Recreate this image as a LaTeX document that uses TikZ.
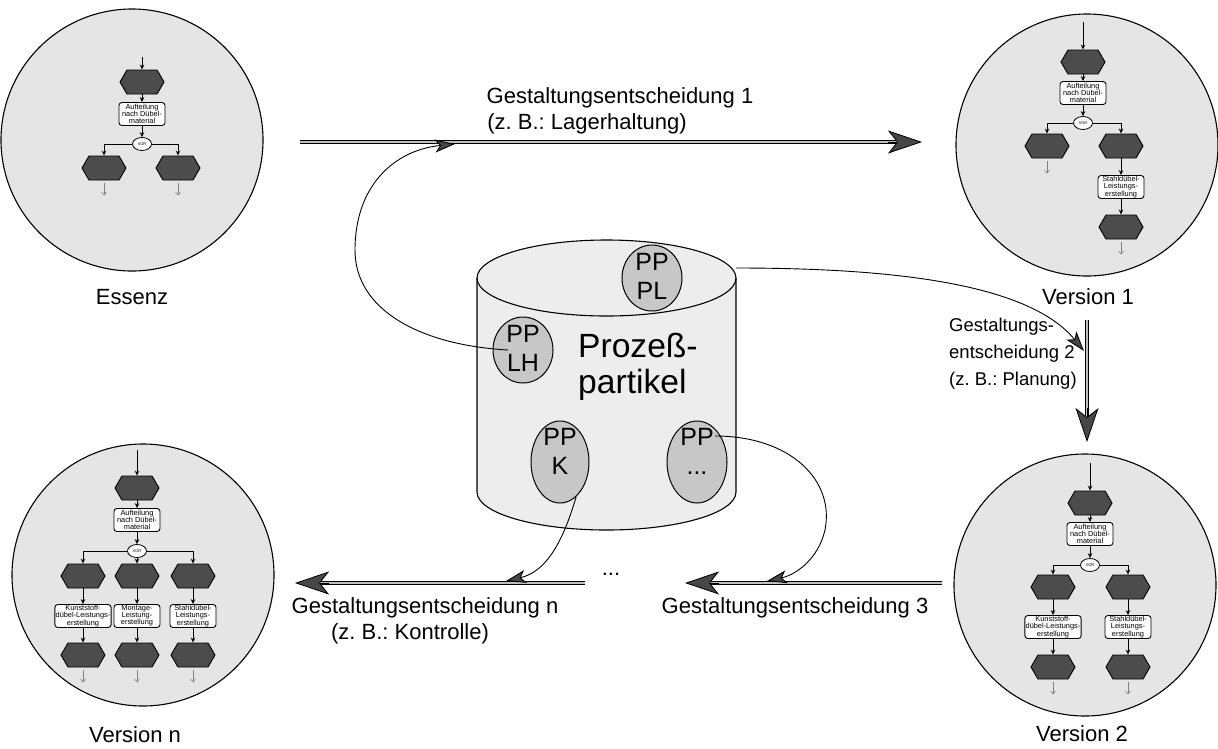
\documentclass[tikz,border=0pt]{standalone}
\usepackage{fontspec}
\setmainfont{Liberation Sans}
\usetikzlibrary{shapes.geometric,shapes.symbols,arrows.meta,calc}
\frenchspacing

\definecolor{stipple}{gray}{0.90}
\definecolor{cylfill}{gray}{0.93}
\definecolor{ppgray}{gray}{0.78}
\definecolor{evtgray}{gray}{0.30}
\definecolor{headgray}{gray}{0.28}
\definecolor{shaftgray}{gray}{0.75}

\tikzset{
  stage/.style={circle, draw, line width=1.1pt, fill=stipple, minimum size=262pt, inner sep=0pt},
  evt/.style={signal, signal to=west and east, signal pointer angle=120, draw, line width=0.9pt,
    fill=evtgray, minimum width=44pt, minimum height=24pt, inner sep=0pt},
  fn/.style={rounded corners=3pt, draw, line width=0.9pt, fill=white, minimum width=46pt,
    minimum height=23pt, inner sep=0.8pt, align=center, font=\fontsize{7.4}{7.2}\selectfont},
  xorc/.style={ellipse, draw, line width=0.8pt, fill=white, minimum width=19pt,
    minimum height=13pt, inner sep=0pt, font=\fontsize{4}{4}\selectfont},
  flow/.style={line width=0.9pt, -{Stealth[length=5pt,width=4.5pt]}},
  dangle/.style={gray, line width=0.6pt, -{Straight Barb[length=3pt,width=5pt]}},
  lbl/.style={font=\fontsize{22}{26}\selectfont, inner sep=0pt},
  pp/.style={ellipse, draw, line width=1pt, fill=ppgray, inner sep=0pt},
  pptext/.style={align=center, inner sep=0pt, font=\fontsize{25}{29}\selectfont},
  shaft/.style={double=shaftgray, double distance=2.6pt, line width=0.9pt},
  bighead/.style={line width=0.8pt, -{Stealth[length=34pt,width=23pt,inset=9pt,fill=headgray]}},
  link/.style={line width=0.9pt, -{Stealth[length=20pt,width=13pt,inset=5pt,fill=headgray]}},
}

\begin{document}
\begin{tikzpicture}[x=1pt,y=1pt]
\useasboundingbox (0,0) rectangle (1218,-748);

% ---------------- stage circles ----------------
\node[stage] (cE)  at (132,-140) {};
\node[stage] (cV1) at (1087,-145) {};
\node[stage] (cV2) at (1085,-585) {};
\node[stage] (cVn) at (143,-575) {};

\node[lbl] (tE)  at (132,-297) {Essenz};
\node[lbl] (tV1) at (1088,-297) {Version 1};
\node[lbl] (tV2) at (1082,-734) {Version 2};
\node[lbl] (tVn) at (135,-735) {Version n};

% ---------------- process chain: Essenz ----------------
\begin{scope}[shift={(142,-82)}, name prefix=e-]
  \coordinate (in) at (0,25);
  \node[evt] (h0) at (0,0) {};
  \node[fn]  (f0) at (0,-32) {Aufteilung\\nach Dübel-\\material};
  \node[xorc] (x0) at (0,-62) {XOR};
  \node[evt] (h1) at (-38,-86) {};
  \node[evt] (h2) at (36,-86) {};
  \draw[flow] (in) -- (h0.north);
  \draw[flow] (h0.south) -- (f0.north);
  \draw[flow] (f0.south) -- (x0.north);
  \draw[flow] (x0.west) -| (h1.north);
  \draw[flow] (x0.east) -| (h2.north);
  \draw[dangle] ($(h1.south)+(0,-3)$) -- ++(0,-12);
  \draw[dangle] ($(h2.south)+(0,-3)$) -- ++(0,-12);
\end{scope}

% ---------------- process chain: Version 1 ----------------
\begin{scope}[shift={(1083,-62)}, name prefix=a-]
  \coordinate (in) at (0,40);
  \node[evt] (h0) at (0,0) {};
  \node[fn]  (f0) at (0,-31) {Aufteilung\\nach Dübel-\\material};
  \node[xorc] (x0) at (0,-61) {XOR};
  \node[evt] (h1) at (-36,-84) {};
  \node[evt] (h2) at (38,-84) {};
  \node[fn]  (f2) at (38,-125) {Stahldübel-\\Leistungs-\\erstellung};
  \node[evt] (h3) at (38,-165) {};
  \draw[flow] (in) -- (h0.north);
  \draw[flow] (h0.south) -- (f0.north);
  \draw[flow] (f0.south) -- (x0.north);
  \draw[flow] (x0.west) -| (h1.north);
  \draw[flow] (x0.east) -| (h2.north);
  \draw[flow] (h2.south) -- (f2.north);
  \draw[flow] (f2.south) -- (h3.north);
  \draw[dangle] ($(h1.south)+(0,-3)$) -- ++(0,-12);
  \draw[dangle] ($(h3.south)+(0,-3)$) -- ++(0,-12);
\end{scope}

% ---------------- process chain: Version 2 ----------------
\begin{scope}[shift={(1090,-503)}, name prefix=b-]
  \coordinate (in) at (0,40);
  \node[evt] (h0) at (0,0) {};
  \node[fn]  (f0) at (0,-31) {Aufteilung\\nach Dübel-\\material};
  \node[xorc] (x0) at (0,-62) {XOR};
  \node[evt] (h1) at (-37,-84) {};
  \node[evt] (h2) at (38,-84) {};
  \node[fn]  (f1) at (-37,-124) {Kunststoff-\\dübel-Leistungs-\\erstellung};
  \node[fn]  (f2) at (38,-124) {Stahldübel-\\Leistungs-\\erstellung};
  \node[evt] (h3) at (-37,-164) {};
  \node[evt] (h4) at (38,-164) {};
  \draw[flow] (in) -- (h0.north);
  \draw[flow] (h0.south) -- (f0.north);
  \draw[flow] (f0.south) -- (x0.north);
  \draw[flow] (x0.west) -| (h1.north);
  \draw[flow] (x0.east) -| (h2.north);
  \draw[flow] (h1.south) -- (f1.north);
  \draw[flow] (h2.south) -- (f2.north);
  \draw[flow] (f1.south) -- (h3.north);
  \draw[flow] (f2.south) -- (h4.north);
  \draw[dangle] ($(h3.south)+(0,-3)$) -- ++(0,-12);
  \draw[dangle] ($(h4.south)+(0,-3)$) -- ++(0,-12);
\end{scope}

% ---------------- process chain: Version n ----------------
\begin{scope}[shift={(137,-488)}, name prefix=n-]
  \coordinate (in) at (0,38);
  \node[evt] (h0) at (0,0) {};
  \node[fn]  (f0) at (0,-32) {Aufteilung\\nach Dübel-\\material};
  \node[xorc] (x0) at (0,-63) {XOR};
  \node[evt] (h1) at (-54,-88) {};
  \node[evt] (h2) at (0,-88) {};
  \node[evt] (h3) at (56,-88) {};
  \node[fn]  (f1) at (-54,-128) {Kunststoff-\\dübel-Leistungs-\\erstellung};
  \node[fn]  (f2) at (0,-128) {Montage-\\Leistung-\\erstellung};
  \node[fn]  (f3) at (56,-128) {Stahldübel-\\Leistungs-\\erstellung};
  \node[evt] (h4) at (-54,-167) {};
  \node[evt] (h5) at (0,-167) {};
  \node[evt] (h6) at (56,-167) {};
  \draw[flow] (in) -- (h0.north);
  \draw[flow] (h0.south) -- (f0.north);
  \draw[flow] (f0.south) -- (x0.north);
  \draw[flow] (x0.west) -| (h1.north);
  \draw[flow] (x0.south) -- (h2.north);
  \draw[flow] (x0.east) -| (h3.north);
  \foreach \k/\m/\q in {1/1/4, 2/2/5, 3/3/6} {
    \draw[flow] (h\k.south) -- (f\m.north);
    \draw[flow] (f\m.south) -- (h\q.north);
    \draw[dangle] ($(h\q.south)+(0,-3)$) -- ++(0,-12);
  }
\end{scope}

% ---------------- cylinder of process particles ----------------
\fill[cylfill] (477,-278) -- (477,-492) arc[start angle=180, end angle=360, x radius=129.5, y radius=38]
  -- (736,-278) arc[start angle=0, end angle=180, x radius=129.5, y radius=38] -- cycle;
\draw[line width=1.1pt] (477,-278) -- (477,-492) arc[start angle=180, end angle=360, x radius=129.5, y radius=38]
  -- (736,-278);
\draw[line width=1.1pt] (606.5,-278) ellipse[x radius=129.5, y radius=38];
\coordinate (cylTR) at (736,-268);

\node[align=left, inner sep=0pt, font=\fontsize{33.6}{36}\selectfont, anchor=west] (cylText) at (578,-367) {Prozeß-\\partikel};

\node[pp, minimum width=60pt, minimum height=66pt] (ppPL) at (652,-278) {};
\node[pptext] (ppPLt) at (652,-276) {PP\\PL};
\node[pp, minimum width=60pt, minimum height=66pt] (ppLH) at (523,-350) {};
\node[pptext] (ppLHt) at (523,-348) {PP\\LH};
\node[pp, minimum width=58pt, minimum height=82pt] (ppK) at (560,-462) {};
\node[pptext] (ppKt) at (560,-451) {PP\\K};
\node[pp, minimum width=60pt, minimum height=82pt] (ppX) at (697,-462) {};
\node[pptext] (ppXt) at (697,-451) {PP\\...};

% ---------------- design decisions (double arrows) ----------------
\coordinate (a1s) at (300,-142);  \coordinate (a1e) at (922,-142);
\coordinate (a2s) at (1087,-320); \coordinate (a2e) at (1087,-442);
\coordinate (a3s) at (942,-583);  \coordinate (a3e) at (685,-583);
\coordinate (a4s) at (585,-583);  \coordinate (a4e) at (295,-583);

\foreach \s/\e in {a1s/a1e, a2s/a2e, a3s/a3e, a4s/a4e} {
  \draw[shaft, shorten >=26pt] (\s) -- (\e);
  \draw[bighead] ($(\e)!34pt!(\s)$) -- (\e);
}

\node[inner sep=0pt, font=\fontsize{22}{26}\selectfont] (dots) at (611,-574) {...};

\node[lbl] (g1a) at (620,-98)  {Gestaltungsentscheidung 1};
\node[lbl] (g1b) at (587,-124) {(z. B.: Lagerhaltung)};
\node[lbl, align=left, anchor=west, font=\fontsize{18.5}{27}\selectfont] (g2) at (949,-354)
  {Gestaltungs-\\entscheidung 2\\(z. B.: Planung)};
\node[lbl] (g3)  at (795,-608) {Gestaltungsentscheidung 3};
\node[lbl] (gna) at (425,-608) {Gestaltungsentscheidung n};
\node[lbl] (gnb) at (410,-634) {(z. B.: Kontrolle)};

% ---------------- links from the particles to the decisions ----------------
\coordinate (lhOut) at ($(ppLH.center)+(-15,0)$);
\coordinate (hit1) at (455,-144);
\coordinate (hit2) at (1084,-351);
\coordinate (xOut) at ($(ppX.center)+(18,26)$);
\coordinate (hit3) at (767,-581);
\coordinate (hit4) at (506,-581);

\draw[link] (lhOut) .. controls (420,-345) and (355,-310) .. (355,-250)
  .. controls (355,-185) and (395,-150) .. (hit1);
\draw[link] (cylTR) .. controls (900,-268) and (1030,-285) .. (hit2);
\draw[link] (xOut) .. controls (790,-436) and (835,-480) .. (825,-530)
  .. controls (818,-560) and (795,-575) .. (hit3);
\draw[link] (ppK.-65) .. controls (562,-545) and (545,-572) .. (hit4);
\end{tikzpicture}
\end{document}
